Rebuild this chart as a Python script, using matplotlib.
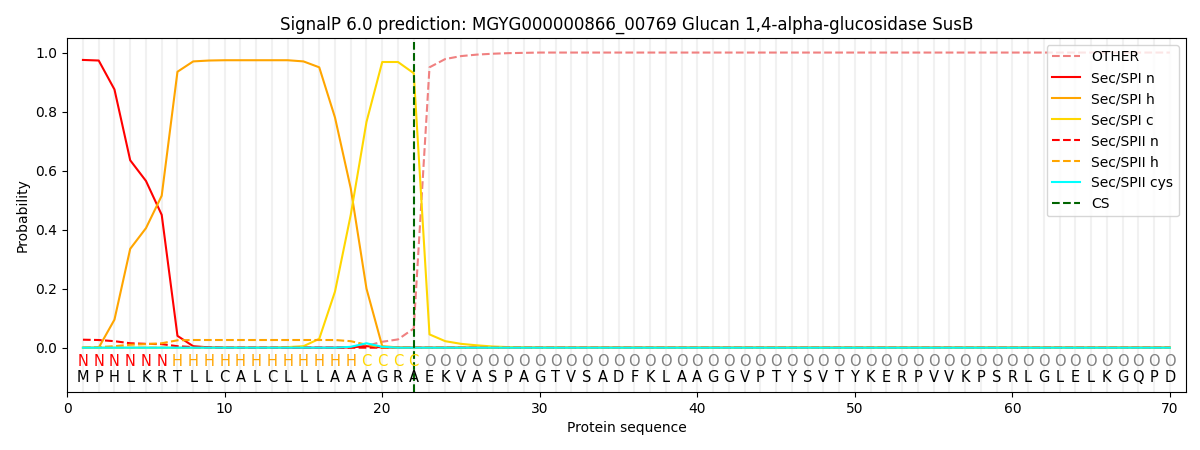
import numpy as np
import matplotlib
matplotlib.use("Agg")
import matplotlib.pyplot as plt

seq = "MPHLKRTLLCALCLLLAAAGRAEKVASPAGTVSADFKLAAGGVPTYSVTYKERPVVKPSRLGLELKGQPD"
labels = "N" * 6 + "H" * 12 + "C" * 4 + "O" * 48
cs_pos = 22

n = len(seq)
pos = np.arange(1, n + 1)

other_head = [0, 0, 0, 0, 0, 0, 0, 0, 0, 0, 0, 0, 0, 0, 0, 0, 0, 0.002, 0.006, 0.02, 0.028, 0.065,
              0.95, 0.978, 0.988, 0.993, 0.996, 0.998, 0.999]
other = other_head + [1.0] * (n - len(other_head))

spi_n_head = [0.975, 0.973, 0.875, 0.635, 0.565, 0.45, 0.04, 0.005, 0.001, 0, 0, 0, 0, 0, 0, 0, 0, 0.001, 0.005, 0.001]
spi_n = spi_n_head + [0] * (n - len(spi_n_head))

spi_h_head = [0, 0.0, 0.095, 0.335, 0.405, 0.515, 0.935, 0.97, 0.973, 0.974, 0.974, 0.974, 0.974, 0.974,
              0.97, 0.95, 0.78, 0.54, 0.20, 0.005, 0.001]
spi_h = spi_h_head + [0] * (n - len(spi_h_head))

spi_c_head = [0, 0, 0, 0, 0, 0, 0, 0, 0, 0, 0, 0, 0, 0.002, 0.005, 0.03, 0.19, 0.45, 0.765, 0.968, 0.968,
              0.93, 0.045, 0.022, 0.013, 0.008, 0.004, 0.002, 0.001]
spi_c = spi_c_head + [0] * (n - len(spi_c_head))

spii_n_head = [0.027, 0.026, 0.022, 0.015, 0.013, 0.012, 0.005, 0.002, 0.001]
spii_n = spii_n_head + [0] * (n - len(spii_n_head))

spii_h_head = [0, 0.002, 0.005, 0.01, 0.012, 0.015, 0.025, 0.026, 0.026, 0.026, 0.026, 0.026, 0.026,
               0.026, 0.026, 0.026, 0.026, 0.022, 0.01, 0.001]
spii_h = spii_h_head + [0] * (n - len(spii_h_head))

spii_cys_head = [0, 0, 0, 0, 0, 0, 0, 0, 0, 0, 0, 0, 0, 0, 0, 0, 0, 0.003, 0.015, 0.003]
spii_cys = spii_cys_head + [0] * (n - len(spii_cys_head))

label_colors = {"N": "red", "H": "orange", "C": "gold", "O": "grey"}

fig, ax = plt.subplots(figsize=(12, 4.5), dpi=100)
fig.subplots_adjust(left=0.056, right=0.988, top=0.916, bottom=0.129)

for p in pos:
    ax.axvline(p, color="lightgrey", alpha=0.3, lw=1.5, zorder=0)

ax.plot(pos, other, color="lightcoral", ls="--", lw=1.5, label="OTHER")
ax.plot(pos, spi_n, color="red", lw=1.5, label="Sec/SPI n")
ax.plot(pos, spi_h, color="orange", lw=1.5, label="Sec/SPI h")
ax.plot(pos, spi_c, color="gold", lw=1.5, label="Sec/SPI c")
ax.plot(pos, spii_n, color="red", ls="--", lw=1.5, label="Sec/SPII n")
ax.plot(pos, spii_h, color="orange", ls="--", lw=1.5, label="Sec/SPII h")
ax.plot(pos, spii_cys, color="cyan", lw=1.5, label="Sec/SPII cys")
ax.axvline(cs_pos, color="darkgreen", ls="--", lw=1.5, label="CS")

for p, aa, lab in zip(pos, seq, labels):
    ax.text(p, -0.047, lab, color=label_colors[lab], ha="center", va="center", fontsize=10.5)
    ax.text(p, -0.10, aa, color="black", ha="center", va="center", fontsize=10.5)

ax.set_xlim(0, 71)
ax.set_ylim(-0.15, 1.05)
ax.set_xlabel("Protein sequence")
ax.set_ylabel("Probability")
ax.set_title("SignalP 6.0 prediction: MGYG000000866_00769 Glucan 1,4-alpha-glucosidase SusB")
ax.legend(loc="upper right")

fig.savefig("out.png")
